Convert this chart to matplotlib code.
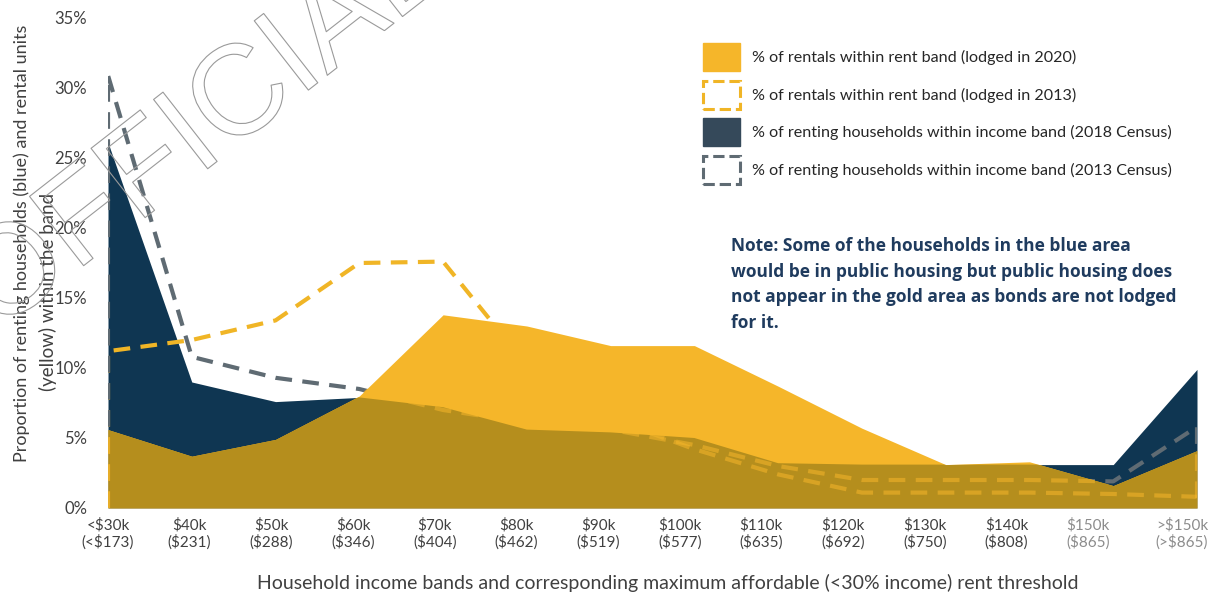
import matplotlib
matplotlib.use("Agg")
import matplotlib.pyplot as plt
import matplotlib.patheffects as pe
from matplotlib.patches import Patch
import numpy as np

plt.rcParams['font.family'] = ['Lato', 'DejaVu Sans']

# income bands (max affordable weekly rent in brackets)
bands = ["<$30k\n(<$173)", "$40k\n($231)", "$50k\n($288)", "$60k\n($346)",
         "$70k\n($404)", "$80k\n($462)", "$90k\n($519)", "$100k\n($577)",
         "$110k\n($635)", "$120k\n($692)", "$130k\n($750)", "$140k\n($808)",
         "$150k\n($865)", ">$150k\n(>$865)"]

# % of rentals within each rent band (bonds lodged)
rentals_2020 = [5.6, 3.7, 4.9, 8.0, 13.8, 13.0, 11.6, 11.6, 8.7, 5.7, 3.1, 3.3, 1.6, 4.1]
rentals_2013 = [11.2, 12.0, 13.4, 17.5, 17.6, 10.2, 6.4, 4.2, 2.4, 1.1, 1.1, 1.1, 1.0, 0.8]

# % of renting households within each income band (census)
households_2018 = [26.1, 9.0, 7.6, 7.9, 7.2, 5.6, 5.4, 5.0, 3.2, 3.1, 3.1, 3.1, 3.1, 9.9]
households_2013 = [30.9, 10.8, 9.3, 8.5, 7.0, 6.1, 5.6, 4.5, 3.0, 2.0, 2.0, 2.0, 1.9, 5.8]

GOLD = '#F5B62A'
DARK_GOLD = '#B58E1D'
NAVY = '#0F3652'
GOLD_DASH = '#F0B526'
GREY_DASH = '#5F6B73'
TEXT = '#404040'

fig = plt.figure(figsize=(12.31, 5.93), dpi=100)
ax = fig.add_axes([108 / 1231, 85 / 593, 1089 / 1231, 490 / 593])

x = np.arange(len(bands))

blue = ax.fill_between(x, 0, households_2018, color=NAVY, lw=0, zorder=1)
gold = ax.fill_between(x, 0, rentals_2020, color=GOLD, lw=0, zorder=2)
# where rentals and households overlap the area turns dark gold
overlap = ax.fill_between(x, 0, rentals_2020, color=DARK_GOLD, lw=0, zorder=3)
overlap.set_clip_path(blue.get_paths()[0], ax.transData)

# 2013 series: dashed outlines only, sitting under the 2020 area
edge_x = np.r_[x[0], x, x[-1]]
dash = (0, (4, 2.5))
for vals, col in [(rentals_2013, GOLD_DASH), (households_2013, GREY_DASH)]:
    edge_y = np.r_[0, vals, 0]
    ax.plot(edge_x, edge_y, color=col, lw=3, ls=dash, dash_capstyle='butt', zorder=1.5)
    # faint trace of the hidden part showing through the gold
    ghost, = ax.plot(edge_x, edge_y, color=GOLD, lw=3, ls=dash, alpha=0.55,
                     dash_capstyle='butt', zorder=3.5)
    ghost.set_clip_path(gold.get_paths()[0], ax.transData)

ax.set_xlim(0, 13)
ax.set_ylim(0, 35)
for s in ax.spines.values():
    s.set_visible(False)

ax.set_yticks(np.arange(0, 36, 5))
ax.set_yticklabels([f"{v}%" for v in range(0, 36, 5)])
ax.tick_params(axis='y', length=0, pad=15, labelsize=12, labelcolor=TEXT)

tick_pos = np.append(np.arange(13) * 0.975, 12.82)
ax.set_xticks(tick_pos)
ax.set_xticklabels(bands, parse_math=False)
ax.tick_params(axis='x', length=0, pad=7, labelsize=11, labelcolor=TEXT)
for lab in ax.get_xticklabels()[-2:]:
    lab.set_color('#8C8C8C')

ax.set_xlabel("Household income bands and corresponding maximum affordable (<30% income) rent threshold",
              fontsize=14, color=TEXT, va='center')
ax.xaxis.set_label_coords(0.514, -0.153)

fig.text(22 / 1231, 1 - 243 / 593,
         "Proportion of renting households (blue) and rental units",
         rotation=90, ha='center', va='center', fontsize=13, color=TEXT)
fig.text(48 / 1231, 1 - 292 / 593, "(yellow) within the band",
         rotation=90, ha='center', va='center', fontsize=13.5, color=TEXT)

handles = [
    Patch(facecolor=GOLD, edgecolor=GOLD),
    Patch(facecolor='white', edgecolor=GOLD_DASH, linestyle='--', lw=2.2),
    Patch(facecolor='#35495A', edgecolor='#35495A'),
    Patch(facecolor='white', edgecolor=GREY_DASH, linestyle='--', lw=2.2),
]
labels = [
    "% of rentals within rent band (lodged in 2020)",
    "% of rentals within rent band (lodged in 2013)",
    "% of renting households within income band (2018 Census)",
    "% of renting households within income band (2013 Census)",
]
fig.legend(handles, labels, loc='upper left', bbox_to_anchor=(703 / 1231, 1 - 43 / 593),
           frameon=False, fontsize=11.6, handlelength=2.3, handleheight=2.3,
           labelspacing=0.6, handletextpad=0.75, borderpad=0, borderaxespad=0,
           labelcolor='#262626')

note = ("Note: Some of the households in the blue area\n"
        "would be in public housing but public housing does\n"
        "not appear in the gold area as bonds are not lodged\n"
        "for it.")
fig.text(731 / 1231, 1 - 237 / 593, note, ha='left', va='top', fontsize=12.5,
         family='Open Sans', fontweight='bold', color='#1F3B5E', linespacing=1.54)

# outlined stamp across the top-left corner
fig.text(0.165, 0.78, "OFFICIAL", rotation=38, ha='center', va='center',
         fontsize=92, family='Liberation Sans', color='none', zorder=10,
         path_effects=[pe.Stroke(linewidth=0.8, foreground='#9A9A9A')])

fig.savefig("out.png", dpi=100)
